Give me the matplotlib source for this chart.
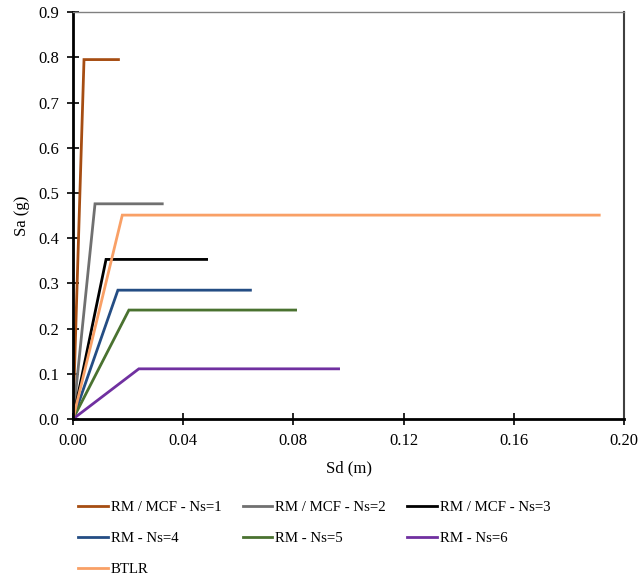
import matplotlib.pyplot as plt
import numpy as np

plt.rcParams['font.family'] = ['Liberation Serif', 'DejaVu Serif']
plt.rcParams['font.size'] = 12

labels = ['RM / MCF - Ns=1', 'RM / MCF - Ns=2', 'RM / MCF - Ns=3',
          'RM - Ns=4', 'RM - Ns=5', 'RM - Ns=6', 'BTLR']
colors = ['#a64d12', '#707070', '#000000', '#244d84', '#4a7230', '#7030a0', '#f9a066']

# bilinear curves: (0,0) -> (dy, say) -> (du, say)
dy = [0.0040, 0.0080, 0.0120, 0.0163, 0.0203, 0.0239, 0.0179]
du = [0.0165, 0.0324, 0.0485, 0.0644, 0.0808, 0.0964, 0.1910]
say = [0.795, 0.476, 0.353, 0.285, 0.241, 0.111, 0.451]

fig = plt.figure(figsize=(6.43, 5.77), dpi=100)
ax = fig.add_axes([0.1135, 0.2738, 0.857, 0.7052])

lines = []
for i in range(len(labels)):
    l, = ax.plot([0, dy[i], du[i]], [0, say[i], say[i]], color=colors[i],
                 lw=2, label=labels[i], solid_joinstyle='miter')
    lines.append(l)

ax.set_xlim(0, 0.20)
ax.set_ylim(0, 0.9)
ax.set_xticks(np.arange(0, 0.201, 0.04))
ax.set_yticks(np.arange(0, 0.91, 0.1))
ax.xaxis.set_major_formatter(plt.FuncFormatter(lambda v, p: '%.2f' % v))
ax.yaxis.set_major_formatter(plt.FuncFormatter(lambda v, p: '%.1f' % v))
ax.tick_params(direction='inout', length=8, width=1.2, labelsize=12, pad=6)
ax.set_xlabel('Sd (m)', fontsize=12, labelpad=8)
ax.set_ylabel('Sa (g)', fontsize=12, labelpad=6)

for s in ['left', 'bottom']:
    ax.spines[s].set_linewidth(2)
    ax.spines[s].set_color('black')
ax.spines['top'].set_color('#808080')
ax.spines['top'].set_linewidth(1)
ax.spines['right'].set_color('#404040')
ax.spines['right'].set_linewidth(1.5)

# legend filled row by row
order = [0, 3, 6, 1, 4, 2, 5]
fig.legend([lines[i] for i in order], [labels[i] for i in order],
           loc='upper left', bbox_to_anchor=(0.112, 0.143), ncol=3,
           frameon=False, fontsize=10.7, handlelength=2.0, handletextpad=0.2,
           columnspacing=1.43, labelspacing=1.2, borderaxespad=0)

fig.savefig('out.png', dpi=100)
